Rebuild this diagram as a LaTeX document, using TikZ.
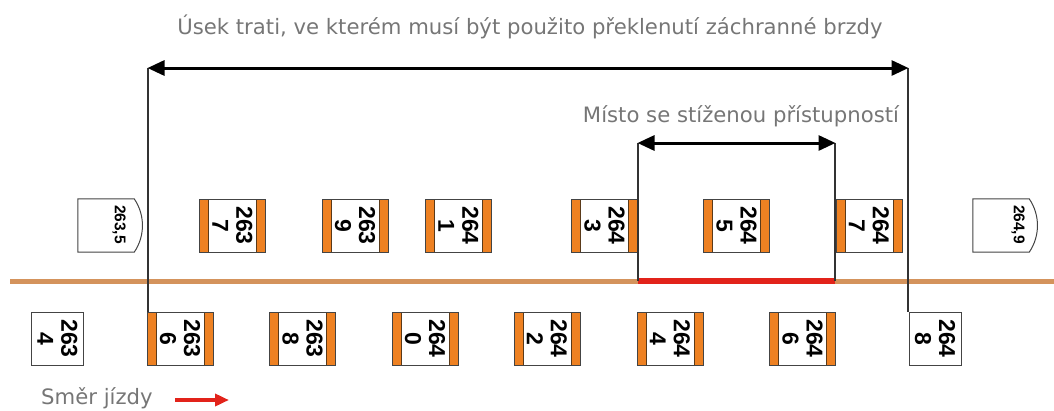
\documentclass[tikz,border=0pt]{standalone}
\usepackage{fontspec}
\setmainfont{DejaVu Sans}
\newfontfamily\numfnt{Liberation Sans}
\usetikzlibrary{arrows.meta,calc}
\definecolor{txtgray}{HTML}{767676}
\definecolor{stripeor}{HTML}{EE8122}
\definecolor{stripebd}{HTML}{5A3A1A}
\definecolor{boxgray}{HTML}{444444}
\definecolor{tracktan}{HTML}{D4935C}
\definecolor{trackred}{HTML}{E2231A}
\tikzset{
  title/.style={font=\fontsize{21.2}{24}\selectfont, text=txtgray, inner sep=0pt},
  plainbox/.style={draw=boxgray, fill=white, line width=1pt, minimum height=53pt, inner sep=0pt},
  pbox/.style={plainbox, minimum width=66pt,
    path picture={
      \filldraw[fill=stripeor, draw=stripebd, line width=1pt] (path picture bounding box.north west) rectangle ([xshift=9pt]path picture bounding box.south west);
      \filldraw[fill=stripeor, draw=stripebd, line width=1pt] (path picture bounding box.north east) rectangle ([xshift=-9pt]path picture bounding box.south east);
    }},
  sbox/.style={plainbox, minimum width=52pt},
  numlbl/.style={rotate=-90, align=center, inner sep=0pt, font=\numfnt\bfseries\fontsize{23}{24}\selectfont},
  kmpost/.style={minimum width=56pt, minimum height=53pt, inner sep=0pt},
  kmlbl/.style={rotate=-90, inner sep=0pt, font=\numfnt\bfseries\fontsize{15.5}{17}\selectfont},
  kmline/.style={draw=boxgray, line width=1pt},
  dimarrow/.style={line width=3pt, {Triangle[length=17pt,width=15pt]}-{Triangle[length=17pt,width=15pt]}, shorten <=-0.5pt, shorten >=-0.5pt},
  guide/.style={draw=black!80, line width=1.3pt},
  track/.style={draw=tracktan, line width=5pt},
  redtrack/.style={draw=trackred, line width=5.5pt},
  dirarrow/.style={draw=trackred, line width=3.5pt, -{Triangle[length=14pt,width=12pt]}},
}
\begin{document}
\begin{tikzpicture}[x=1pt,y=-1pt]
\useasboundingbox (0,0) rectangle (1054,410);

% texts
\node[title] (t1) at (530,27) {Úsek trati, ve kterém musí být použito překlenutí záchranné brzdy};
\node[title] (t2) at (741,116) {Místo se stíženou přístupností};
\node[title, anchor=west] (t3) at (41,398) {Směr jízdy};

% track
\coordinate (trA) at (10,281);
\coordinate (trB) at (1054,281);
\draw[track] (trA) -- (trB);
\coordinate (rA) at (638,281);
\coordinate (rB) at (835,281);
\draw[redtrack] (rA) -- (rB);

% top row
\node[kmpost] (k2635) at (106,225.5) {};
\node[kmlbl] (k2635t) at ($(k2635.center)+(13,-1)$) {263,5};
\draw[kmline] (k2635.north west) -- (k2635.north east) .. controls ($(k2635.north east)+(11,16)$) and ($(k2635.south east)+(11,-16)$) .. (k2635.south east) -- (k2635.south west) -- cycle;

\node[pbox, label={[numlbl]center:{263\\7}}] (p2637) at (232.5,225.5) {};
\node[pbox, label={[numlbl]center:{263\\9}}] (p2639) at (355,225.5) {};
\node[pbox, label={[numlbl]center:{264\\1}}] (p2641) at (458.5,225.5) {};
\node[pbox, label={[numlbl]center:{264\\3}}] (p2643) at (604.5,225.5) {};
\node[pbox, label={[numlbl]center:{264\\5}}] (p2645) at (736.5,225.5) {};
\node[pbox, label={[numlbl]center:{264\\7}}] (p2647) at (869,225.5) {};

\node[kmpost] (k2649) at (1001,225.5) {};
\node[kmlbl] (k2649t) at ($(k2649.center)+(17,-1)$) {264,9};
\draw[kmline] (k2649.north west) -- (k2649.north east) .. controls ($(k2649.north east)+(11,16)$) and ($(k2649.south east)+(11,-16)$) .. (k2649.south east) -- (k2649.south west) -- cycle;

% bottom row
\node[sbox, label={[numlbl]center:{263\\4}}] (p2634) at (57.5,338.5) {};
\node[pbox, label={[numlbl]center:{263\\6}}] (p2636) at (180,338.5) {};
\node[pbox, label={[numlbl]center:{263\\8}}] (p2638) at (302.5,338.5) {};
\node[pbox, label={[numlbl]center:{264\\0}}] (p2640) at (425,338.5) {};
\node[pbox, label={[numlbl]center:{264\\2}}] (p2642) at (547,338.5) {};
\node[pbox, label={[numlbl]center:{264\\4}}] (p2644) at (670,338.5) {};
\node[pbox, label={[numlbl]center:{264\\6}}] (p2646) at (802.5,338.5) {};
\node[sbox, label={[numlbl]center:{264\\8}}] (p2648) at (935,338.5) {};

% dimension lines
\coordinate (dL) at (148,68);
\coordinate (dR) at (908,68);
\draw[guide] (dL) -- (dL |- p2636.north);
\draw[guide] (dR) -- (dR |- p2648.north);
\draw[dimarrow] (dL) -- (dR);

\coordinate (sL) at (638,143);
\coordinate (sR) at (835,143);
\draw[guide] (sL) -- (rA);
\draw[guide] (sR) -- (rB);
\draw[dimarrow] (sL) -- (sR);

% direction
\coordinate (d1) at (175,400);
\coordinate (d2) at (229,400);
\draw[dirarrow] (d1) -- (d2);
\end{tikzpicture}
\end{document}
